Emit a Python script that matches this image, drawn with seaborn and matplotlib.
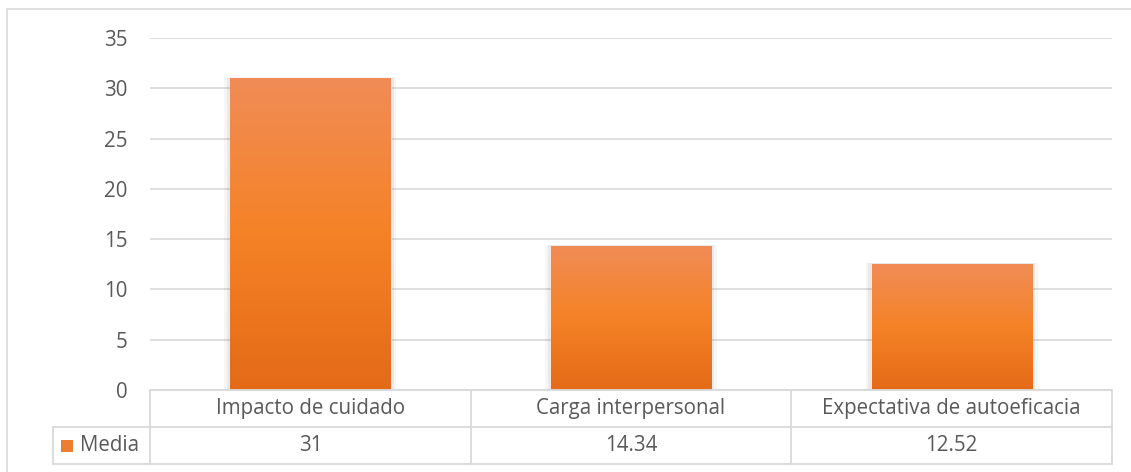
import numpy as np
import pandas as pd
import matplotlib
matplotlib.use("Agg")
import matplotlib.pyplot as plt
from matplotlib.colors import LinearSegmentedColormap
from matplotlib.patches import Rectangle
from matplotlib.lines import Line2D
import seaborn as sns

# --- Data ---
categories = ["Impacto de cuidado", "Carga interpersonal", "Expectativa de autoeficacia"]
media_values = [31, 14.34, 12.52]
value_labels = ["31", "14.34", "12.52"]
series_name = "Media"
y_ticks = [0, 5, 10, 15, 20, 25, 30, 35]

# --- Style ---
sns.set_theme(style="white")
plt.rcParams["font.family"] = ["Open Sans", "DejaVu Sans"]
TEXT = "#595959"
GRID = "#D9D9D9"
ORANGE = "#ED7D31"
FS = 14.8

W, H = 1131, 472
fig = plt.figure(figsize=(W / 100, H / 100), dpi=100)

def px_x(x):
    return x / W

def px_y(y):
    return 1 - y / H

# plot area in pixels
left, right, top, bottom = 150, 1112, 38, 390
ax = fig.add_axes([px_x(left), px_y(bottom), px_x(right) - px_x(left), px_y(top) - px_y(bottom)])

df = pd.DataFrame({"cat": categories, "val": media_values})
sns.barplot(data=df, x="cat", y="val", color=ORANGE, width=0.5, ax=ax, saturation=1)

ax.set_ylim(0, 35)
ax.set_xlim(-0.5, len(categories) - 0.5)
ax.set_yticks(y_ticks)
ax.set_yticklabels([str(t) for t in y_ticks], fontsize=FS, color=TEXT)
ax.tick_params(axis="y", length=0, pad=16)
ax.set_xticks([])
ax.set_xlabel("")
ax.set_ylabel("")
for s in ax.spines.values():
    s.set_visible(False)
ax.yaxis.grid(True, color=GRID, linewidth=1.2)
ax.set_axisbelow(True)

# gradient fill for each bar
cmap = LinearSegmentedColormap.from_list(
    "xl_orange", [(0.0, "#E46A17"), (0.5, "#F58226"), (1.0, "#F08C57")])
grad = np.linspace(0, 1, 256).reshape(-1, 1)
for bar in ax.patches:
    x0, w, h = bar.get_x(), bar.get_width(), bar.get_height()
    # soft shadow
    for k, a in zip([0.018, 0.01], [0.035, 0.05]):
        ax.add_patch(Rectangle((x0 - k, 0), w + 2 * k, h + k * 6, color="black",
                               alpha=a, lw=0, zorder=1.5))
    im = ax.imshow(grad, extent=[x0, x0 + w, 0, h], origin="lower", cmap=cmap,
                   aspect="auto", zorder=2)
    im.set_clip_path(bar)
ax.set_xlim(-0.5, len(categories) - 0.5)
ax.set_ylim(0, 35)

# --- Data table below the plot ---
row1_top, row1_bot, row2_bot = 390, 427, 464
legend_left = 53
col_edges = [left + (right - left) * i / len(categories) for i in range(len(categories) + 1)]

def hline(x0, x1, y):
    fig.add_artist(Line2D([px_x(x0), px_x(x1)], [px_y(y), px_y(y)], transform=fig.transFigure,
                          color=GRID, linewidth=1.3))

def vline(x, y0, y1):
    fig.add_artist(Line2D([px_x(x), px_x(x)], [px_y(y0), px_y(y1)], transform=fig.transFigure,
                          color=GRID, linewidth=1.3))

hline(left, right, row1_top)
hline(legend_left, right, row1_bot)
hline(legend_left, right, row2_bot)
for x in col_edges:
    vline(x, row1_top, row2_bot)
vline(legend_left, row1_bot, row2_bot)

for i, (cat, lab) in enumerate(zip(categories, value_labels)):
    cx = (col_edges[i] + col_edges[i + 1]) / 2
    fig.text(px_x(cx), px_y((row1_top + row1_bot) / 2), cat, ha="center", va="center",
             fontsize=FS, color=TEXT)
    fig.text(px_x(cx), px_y((row1_bot + row2_bot) / 2), lab, ha="center", va="center",
             fontsize=FS, color=TEXT)

# legend key in the table
fig.add_artist(Rectangle((px_x(61), px_y(452)), px_x(12), 12 / H, transform=fig.transFigure,
                         facecolor=ORANGE, edgecolor="none"))
fig.text(px_x(80), px_y((row1_bot + row2_bot) / 2), series_name, ha="left", va="center",
         fontsize=FS, color=TEXT)

# outer chart border
fig.add_artist(Rectangle((px_x(7), px_y(H + 2)), px_x(W - 7 + 5), (H - 9 + 2) / H,
                         transform=fig.transFigure, facecolor="none",
                         edgecolor=GRID, linewidth=1.2))

fig.savefig("out.png", dpi=100)
